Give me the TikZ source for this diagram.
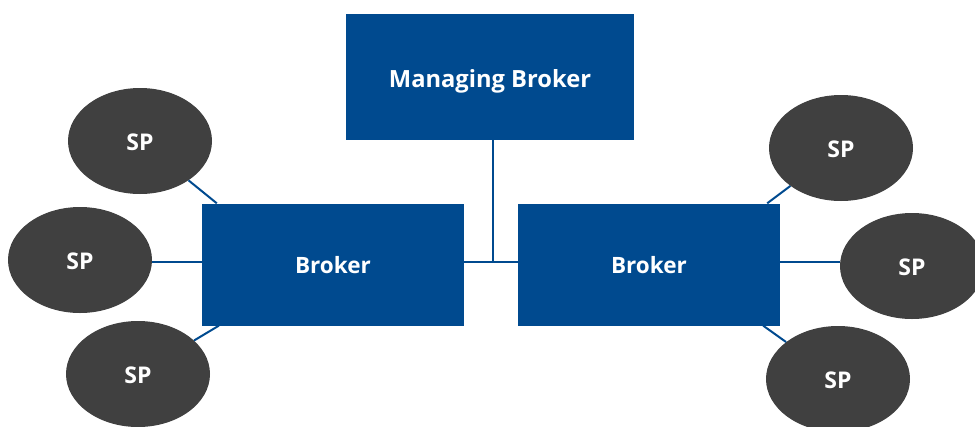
\documentclass[tikz,border=0pt]{standalone}
\usepackage{fontspec}
\setmainfont{Open Sans}
\usetikzlibrary{shapes.geometric,calc}
\definecolor{boxblue}{HTML}{004A8F}
\definecolor{spgray}{HTML}{404040}
\tikzset{
  box/.style={rectangle, fill=boxblue, draw=none, inner sep=0pt, text=white, text depth=0pt, font=\fontsize{22.5}{26}\selectfont\bfseries},
  sp/.style={ellipse, fill=spgray, draw=none, minimum width=144pt, minimum height=106pt, inner sep=0pt, text=white, text depth=0pt, font=\fontsize{23}{27}\selectfont\bfseries},
  link/.style={draw=boxblue, line width=2pt}
}
\begin{document}
\begin{tikzpicture}[x=1pt,y=-1pt]
\useasboundingbox (0,0) rectangle (975,426);
\node[box, minimum width=288pt, minimum height=126pt, font=\fontsize{23.7}{27}\selectfont\bfseries] (mb) at (490,77) {\raisebox{-2pt}{Managing Broker}};
\node[box, minimum width=262pt, minimum height=122pt] (lb) at (333,264.5) {\raisebox{-1.5pt}{Broker}};
\node[box, minimum width=262pt, minimum height=122pt] (rb) at (649,264.5) {\raisebox{-1.5pt}{Broker}};
\node[sp] (e1) at (140,141) {\raisebox{-2pt}{SP}};
\node[sp] (e2) at (80,260) {\raisebox{-2pt}{SP}};
\node[sp] (e3) at (138,374) {\raisebox{-2pt}{SP}};
\node[sp] (e4) at (841,148) {\raisebox{-2pt}{SP}};
\node[sp] (e5) at (912,266) {\raisebox{-2pt}{SP}};
\node[sp] (e6) at (838,379) {\raisebox{-2pt}{SP}};
\coordinate (j) at (493,262);
\coordinate (c1) at ($(lb.north west)+(15,0)$);
\coordinate (c3) at ($(lb.south west)+(17,0)$);
\coordinate (c4) at ($(rb.north east)+(-13,0)$);
\coordinate (c6) at ($(rb.south east)+(-17,0)$);
\draw[link] (mb.south -| j) -- (j);
\draw[link] (lb.east |- j) -- (rb.west |- j);
\draw[link] (e1) -- (c1);
\draw[link] (e3) -- (c3);
\draw[link] (e4) -- (c4);
\draw[link] (e6) -- (c6);
\draw[link] (e2.east |- 0,262) -- (lb.west |- 0,262);
\draw[link] (e5.west |- 0,262) -- (rb.east |- 0,262);
\end{tikzpicture}
\end{document}
